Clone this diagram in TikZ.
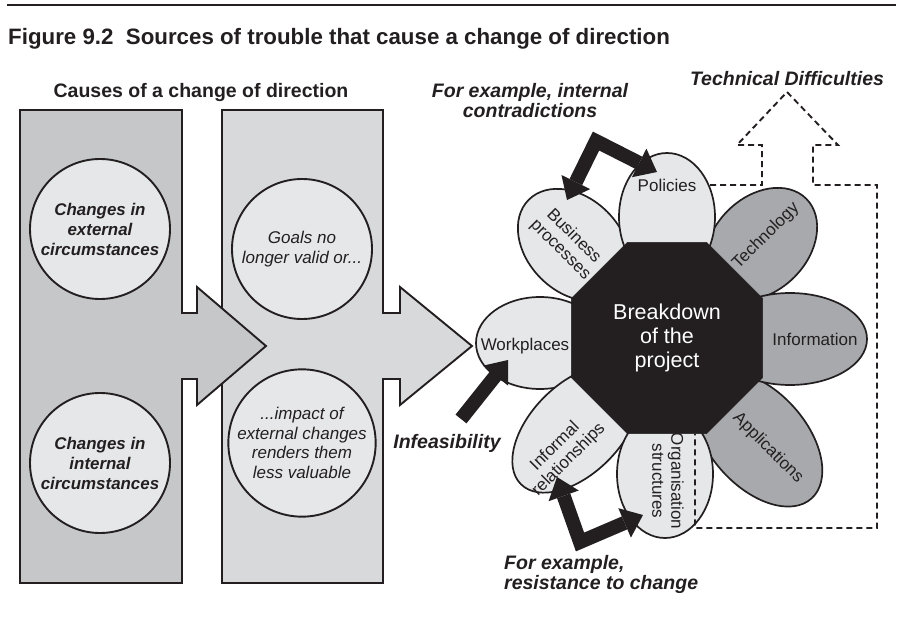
\documentclass[tikz,border=0pt]{standalone}
\usepackage{fontspec}
\setmainfont{Liberation Sans}
\usetikzlibrary{shapes.geometric,arrows.meta}
\definecolor{encre}{HTML}{231F20}
\definecolor{grisun}{HTML}{C6C7C9}
\definecolor{grisdeux}{HTML}{D8D9DB}
\definecolor{grisclair}{HTML}{E6E7E8}
\definecolor{grisfonce}{HTML}{A7A9AC}
\begin{document}
\begin{tikzpicture}[x=1pt,y=-1pt]
		\tikzstyle{panneau}=[draw=encre,line width=1.9pt,line join=miter]
		\tikzstyle{cercle}=[circle,draw=encre,line width=1.9pt,fill=grisclair,minimum size=140pt,inner sep=0pt,align=center,text=encre]
		\tikzstyle{petale_clair}=[ellipse,draw=encre,line width=1.7pt,fill=grisclair,inner sep=0pt]
		\tikzstyle{petale_fonce}=[ellipse,draw=encre,line width=1.7pt,fill=grisfonce,inner sep=0pt]
		\tikzstyle{mot}=[text=encre,inner sep=0pt,align=center,font=\fontsize{17}{19}\selectfont]
		\tikzstyle{legende}=[text=encre,inner sep=0pt,font=\fontsize{19.5}{20}\selectfont\bfseries\itshape]
		\tikzstyle{fleche}=[draw=encre,line width=14pt,line join=miter,>={Triangle[length=20pt,width=32pt,line width=0pt]}]
		\tikzstyle{pointille}=[draw=encre,line width=1.9pt,dash pattern=on 6pt off 4pt]
		\useasboundingbox (0,0) rectangle (906,642);
		\draw[encre,line width=1.5pt] (7,5) -- (896,5); % filet
		\node[anchor=base west,inner sep=0pt,text=encre,font=\fontsize{22.3}{26}\selectfont\bfseries] (titre) at (8,45) {Figure 9.2\ \ Sources of trouble that cause a change of direction};
		\node[anchor=base,inner sep=0pt,text=encre,font=\fontsize{19.5}{22}\selectfont\bfseries] (causes) at (201,98) {Causes of a change of direction};
		% panneaux
		\draw[panneau,fill=grisdeux] (222,110) -- (383,110) -- (383,313) -- (400,313) -- (400,287) -- (472,346) -- (400,405) -- (400,379) -- (383,379) -- (383,583) -- (222,583) -- cycle;
		\draw[panneau,fill=grisun] (20,110) -- (182,110) -- (182,313) -- (197,313) -- (197,287) -- (266,346) -- (197,405) -- (197,379) -- (182,379) -- (182,583) -- (20,583) -- cycle;
		\node[cercle,font=\fontsize{16.9}{20}\selectfont\bfseries\itshape] (ext) at (100,229) {Changes in\\external\\circumstances};
		\node[cercle,font=\fontsize{16.9}{20}\selectfont\bfseries\itshape] (int) at (100,463) {Changes in\\internal\\circumstances};
		\node[cercle,font=\fontsize{17}{19.5}\selectfont\itshape] (goals) at (302,249) {Goals no\\longer valid or...};
		\node[cercle,font=\fontsize{17}{19.5}\selectfont\itshape] (impact) at (302,443) {...impact of\\external changes\\renders them\\less valuable};
		% fleur
		\node[petale_clair,minimum width=128pt,minimum height=94pt,rotate=-45] (bp) at (574,245) {};
		\node[petale_fonce,minimum width=128pt,minimum height=94pt,rotate=45] (tech) at (761,244) {};
		\node[petale_fonce,minimum width=160pt,minimum height=96pt,rotate=-48] (app) at (758,439) {};
		\node[petale_clair,minimum width=128pt,minimum height=96pt,rotate=90] (pol) at (667,217) {};
		\node[petale_fonce,minimum width=154pt,minimum height=92pt] (info) at (790,339) {};
		\node[petale_clair,minimum width=128pt,minimum height=92pt] (wp) at (540,343) {};
		\node[petale_clair,minimum width=156pt,minimum height=90pt,rotate=45] (ir) at (576,429) {};
		\node[petale_clair,minimum width=128pt,minimum height=96pt,rotate=90] (os) at (665,474) {};
		\node[regular polygon,regular polygon sides=8,minimum size=207pt,inner sep=0pt,fill=encre,draw=encre,text=white,align=center,font=\fontsize{21.5}{24}\selectfont] (oct) at (667,338) {Breakdown\\of the\\project};
		\node[mot] (t_pol) at (667,185) {Policies};
		\node[mot,rotate=45] (t_tech) at (766,236) {Technology};
		\node[mot] (t_info) at (815,339) {Information};
		\node[mot,rotate=-45] (t_app) at (768,448) {Applications};
		\node[mot,rotate=-90] (t_os) at (668,481) {Organisation\\structures};
		\node[mot,rotate=45] (t_ir) at (562,453) {Informal\\relationships};
		\node[mot] (t_wp) at (525,346) {Workplaces};
		\node[mot,rotate=-45] (t_bp) at (567,243) {Business\\processes};
		% fleches
		\coordinate (coude_haut) at (596,141);
		\coordinate (coude_bas) at (580,542);
		\coordinate (depart_inf) at (461,419);
		\draw[fleche,<->] ([shift={(-7,-45)}]bp.center) -- (coude_haut) -- ([shift={(-10,-45)}]pol.center);
		\draw[fleche,->] (depart_inf) -- ([shift={(-32,17)}]wp.center);
		\draw[fleche,<->] ([shift={(-19,48)}]ir.center) -- (coude_bas) -- ([shift={(-22,41)}]os.center);
		\draw[pointille] ([shift={(43,-32)}]pol.center) -- (762,185) -- (762,145) -- (737,145) -- (787,92) -- (838,145) -- (813,145) -- (813,185) -- (877,185) -- (877,528) -- (695,528) -- ([xshift=28pt]oct.south);
		% legendes
		\node[legende,anchor=base] (l_tech) at (787,85) {Technical Difficulties};
		\node[legende,align=center] (l_contra) at (530,101) {For example, internal\\contradictions};
		\node[legende,anchor=base] (l_inf) at (447,448) {Infeasibility};
		\node[legende,align=left,anchor=west] (l_res) at (504,574) {For example,\\resistance to change};
	\end{tikzpicture}
\end{document}
